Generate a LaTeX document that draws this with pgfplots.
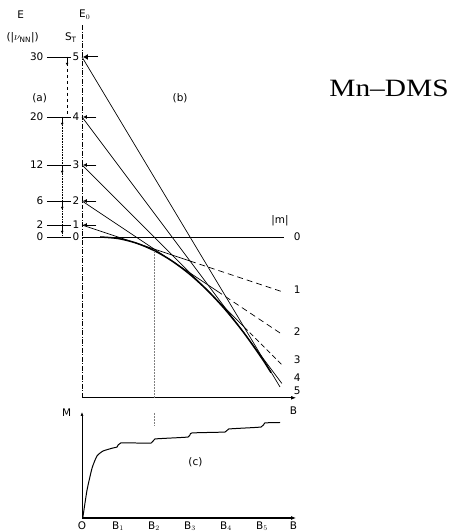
\documentclass[border=0pt]{standalone}
\usepackage{fontspec}
\usepackage{pgfplots}
\pgfplotsset{compat=1.18}
\usetikzlibrary{arrows.meta}
\setmainfont{DejaVu Sans}
\newfontfamily\titlefont[Ligatures=TeX]{Liberation Serif}

\begin{document}
\begin{tikzpicture}[x=1bp,y=1bp, every node/.style={font=\fontsize{10.5}{11}\selectfont}]
\useasboundingbox (0,0) rectangle (457,531);

% ---------- (a) and (b): Zeeman-split spin levels ----------
\begin{axis}[at={(10bp,114bp)}, anchor=south west, x=18bp, y=6bp,
  xmin=-4, xmax=20, ymin=-30, ymax=40, hide axis, clip=false]

% E0 axis (dash-dot) and field axis
\draw[line width=0.8pt, dash pattern=on 5pt off 1.5pt on 1pt off 1.5pt]
  (axis cs:0,35.3) -- (axis cs:0,-26.8);
\draw[line width=1.3pt, -{Latex[length=5pt]}] (axis cs:0,-26.8) -- (axis cs:11.9,-26.8);
\node at (axis cs:11.75,-28.9) {B};
\node at (axis cs:0.15,37.1) {E$_0$};

% levels E_S(B) = S(S+1) - S B
\addplot[black, line width=0.7pt] coordinates {(0,0) (11.2,0)};
\addplot[black, line width=0.7pt] coordinates {(0,2) (6,-4)};
\addplot[black, line width=0.7pt, dash pattern=on 6pt off 4pt] coordinates {(6,-4) (11.1,-9.1)};
\addplot[black, line width=0.7pt] coordinates {(0,6) (7.5,-9)};
\addplot[black, line width=0.7pt, dash pattern=on 6pt off 4pt] coordinates {(7.5,-9) (11.1,-16.2)};
\addplot[black, line width=0.7pt] coordinates {(0,12) (9,-15)};
\addplot[black, line width=0.7pt, dash pattern=on 5pt off 3pt] coordinates {(9,-15) (11.1,-21.3)};
\addplot[black, line width=0.7pt] coordinates {(0,20) (11.1,-24.4)};
\addplot[black, line width=0.7pt] coordinates {(0,30) (11.0,-25)};

% ground-state envelope
\addplot[black, line width=1.5pt, smooth] coordinates {
  (1,0) (2,-0.25) (3,-1) (4,-2.25) (5,-4) (6,-6.25) (7,-9) (8,-12.25)
  (9,-16) (10,-20.25) (10.5,-22.6)};

% markers of each level on the E0 axis
\draw[line width=0.8pt, -{Latex[length=4pt,width=4pt]}] (axis cs:0.8,2) -- (axis cs:0.05,2);
\draw[line width=0.8pt, -{Latex[length=4pt,width=4pt]}] (axis cs:0.8,6) -- (axis cs:0.05,6);
\draw[line width=0.8pt, -{Latex[length=4pt,width=4pt]}] (axis cs:0.8,12) -- (axis cs:0.05,12);
\draw[line width=0.8pt, -{Latex[length=4pt,width=4pt]}] (axis cs:0.8,20) -- (axis cs:0.05,20);
\draw[line width=1.0pt, -{Latex[length=5pt,width=6pt]}] (axis cs:0.9,30) -- (axis cs:0.05,30);

% |m| labels at the right
\node at (axis cs:11.0,2.7) {|m|};
\node at (axis cs:11.95,0) {0};
\node at (axis cs:11.95,-8.7) {1};
\node at (axis cs:11.95,-15.8) {2};
\node at (axis cs:11.95,-20.5) {3};
\node at (axis cs:11.95,-23.4) {4};
\node at (axis cs:11.95,-25.6) {5};

% B2 guide
\draw[gray, densely dotted, line width=0.5pt] (axis cs:4,-2.3) -- (axis cs:4,-26.8);

% panel (a): level energies and total spins
\node at (axis cs:-3.4,37.0) {E};
\node at (axis cs:-3.3,33.2) {(|$\nu_{\mathrm{NN}}$|)};
\node at (axis cs:-0.62,33.2) {S$_\mathrm{T}$};
\draw[line width=0.6pt, dashed] (axis cs:-0.83,30) -- (axis cs:-0.83,20);
\draw[line width=0.6pt, densely dotted] (axis cs:-1.1,20) -- (axis cs:-1.1,0);
\draw[line width=0.8pt] (axis cs:-1.95,30) -- (axis cs:-0.6,30);
\draw[line width=0.8pt] (axis cs:-1.95,20) -- (axis cs:-0.6,20);
\draw[line width=0.8pt] (axis cs:-1.95,12) -- (axis cs:-0.6,12);
\draw[line width=0.8pt] (axis cs:-1.95,6) -- (axis cs:-0.6,6);
\draw[line width=0.8pt] (axis cs:-1.95,2) -- (axis cs:-0.6,2);
\draw[line width=0.8pt] (axis cs:-1.95,0) -- (axis cs:-0.6,0);
\draw[line width=0.8pt, -{Latex[length=2.5pt,width=3pt]}] (axis cs:-0.83,30) -- (axis cs:-0.83,28.6);
\draw[line width=0.8pt, -{Latex[length=2.5pt,width=3pt]}] (axis cs:-1.1,20) -- (axis cs:-1.1,18.6);
\draw[line width=0.8pt, -{Latex[length=2.5pt,width=3pt]}] (axis cs:-1.1,12) -- (axis cs:-1.1,10.6);
\draw[line width=0.8pt, -{Latex[length=2.5pt,width=3pt]}] (axis cs:-1.1,6) -- (axis cs:-1.1,4.6);
\draw[line width=0.8pt, -{Latex[length=2.5pt,width=3pt]}] (axis cs:-1.1,2) -- (axis cs:-1.1,0.6);
\node[anchor=east] at (axis cs:-1.95,30) {30};
\node[anchor=east] at (axis cs:-1.95,20) {20};
\node[anchor=east] at (axis cs:-1.95,12) {12};
\node[anchor=east] at (axis cs:-1.95,6) {6};
\node[anchor=east] at (axis cs:-1.95,2) {2};
\node[anchor=east] at (axis cs:-1.95,0) {0};
\node[fill=white, inner sep=0.6pt] at (axis cs:-0.33,30) {5};
\node[fill=white, inner sep=0.6pt] at (axis cs:-0.33,20) {4};
\node[fill=white, inner sep=0.6pt] at (axis cs:-0.33,12) {3};
\node[fill=white, inner sep=0.6pt] at (axis cs:-0.33,6) {2};
\node[fill=white, inner sep=0.6pt] at (axis cs:-0.33,2) {1};
\node[fill=white, inner sep=0.6pt] at (axis cs:-0.33,0) {0};

\node at (axis cs:-2.35,23.2) {(a)};
\node at (axis cs:5.45,23.2) {(b)};
\end{axis}

% ---------- (c): magnetization steps ----------
\begin{axis}[at={(10bp,13bp)}, anchor=south west, x=18bp, y=1bp,
  xmin=-4, xmax=20, ymin=0, ymax=110, hide axis, clip=false]
\draw[line width=0.6pt, -{Latex[length=4pt]}] (axis cs:0,0) -- (axis cs:0,106);
\draw[line width=1.3pt, -{Latex[length=5pt]}] (axis cs:0,0) -- (axis cs:11.9,0);
\draw[gray, densely dotted, line width=0.5pt] (axis cs:4,105) -- (axis cs:4,93);
\node at (axis cs:-0.85,105) {M};
\addplot[black, line width=1.0pt, smooth, tension=0.3] coordinates {
  (0.05,1) (0.28,28) (0.56,50) (0.83,62) (1.17,67) (1.72,70) (1.95,71)
  (2.15,75) (3.85,75) (4.05,79) (5.9,81) (6.1,85) (7.95,86) (8.15,89)
  (9.95,91) (10.15,95) (11.0,95.5)};
\node at (axis cs:6.3,56) {(c)};
\node[inner sep=0pt, anchor=north] at (axis cs:0,-3.5) {O};
\node[inner sep=0pt, anchor=north] at (axis cs:2,-3.5) {B$_1$};
\node[inner sep=0pt, anchor=north] at (axis cs:4,-3.5) {B$_2$};
\node[inner sep=0pt, anchor=north] at (axis cs:6,-3.5) {B$_3$};
\node[inner sep=0pt, anchor=north] at (axis cs:8,-3.5) {B$_4$};
\node[inner sep=0pt, anchor=north] at (axis cs:10,-3.5) {B$_5$};
\node[inner sep=0pt, anchor=north] at (axis cs:11.75,-3.5) {B};
\end{axis}

% compound name
\node[font=\titlefont\fontsize{25}{26}\selectfont] at (389bp,443bp) {\scalebox{1.18}[1]{Mn\textendash DMS}};
\end{tikzpicture}
\end{document}
